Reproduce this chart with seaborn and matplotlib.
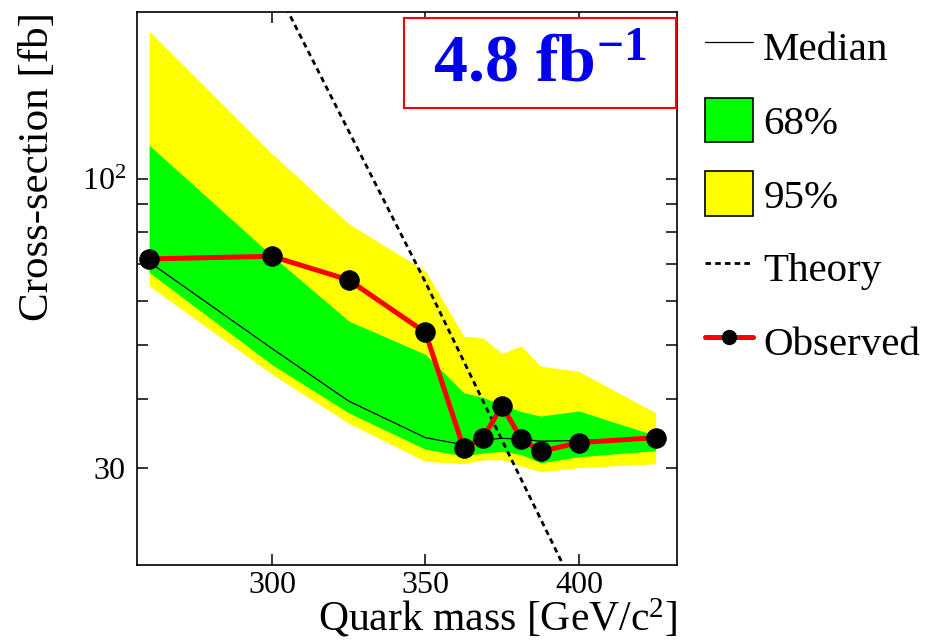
import numpy as np
import pandas as pd
import matplotlib
matplotlib.use('Agg')
import matplotlib.pyplot as plt
import seaborn as sns
from matplotlib.lines import Line2D
from matplotlib.patches import Patch, Rectangle
from matplotlib.ticker import FixedLocator, NullFormatter

# quark mass points [GeV/c^2]
mass = [260, 300, 325, 350, 362.5, 368.75, 375, 381.25, 387.5, 400, 425]

# cross-section limits [fb]
observed = [71.6, 72.4, 65.6, 52.7, 32.5, 34.0, 38.8, 33.8, 32.1, 33.3, 34.0]
median = [70.7, 49.3, 39.6, 34.0, 33.0, 33.7, 33.9, 33.8, 33.5, 33.6, 33.9]
band68_lo = [67.7, 46.1, 37.7, 32.4, 31.5, 31.9, 32.1, 31.7, 30.6, 31.4, 32.2]
band68_hi = [115, 72.6, 55.3, 48.1, 41.0, 40.2, 39.0, 37.9, 37.2, 38.0, 34.3]
band95_lo = [64.0, 44.3, 36.1, 30.8, 30.5, 31.0, 31.0, 30.2, 29.5, 30.0, 30.5]
band95_hi = [185, 111, 82.9, 68.1, 51.9, 51.5, 48.3, 49.8, 45.8, 44.8, 37.7]

# theory prediction
theory_mass = [300, 325, 350, 375, 400]
theory = [229, 122, 65, 33.6, 17.5]

lumi_label = '4.8 fb$^{\\mathbf{-1}}$'

df = pd.DataFrame({'mass': mass, 'observed': observed, 'median': median})
df_th = pd.DataFrame({'mass': theory_mass, 'xsec': theory})

sns.set_theme(style='ticks')
plt.rcParams['font.family'] = ['Liberation Serif', 'DejaVu Serif']
plt.rcParams['mathtext.fontset'] = 'custom'
plt.rcParams['mathtext.rm'] = 'Liberation Serif'
plt.rcParams['mathtext.it'] = 'Liberation Serif:italic'
plt.rcParams['mathtext.bf'] = 'Liberation Serif:bold'
plt.rcParams['text.color'] = 'black'
plt.rcParams['axes.labelcolor'] = 'black'
plt.rcParams['xtick.color'] = 'black'
plt.rcParams['ytick.color'] = 'black'

fig = plt.figure(figsize=(9.25, 6.41), dpi=100)
ax = fig.add_axes([0.148, 0.1186, 0.584, 0.862])

ax.fill_between(mass, band95_lo, band95_hi, color='#ffff00', lw=0)
ax.fill_between(mass, band68_lo, band68_hi, color='#00ff00', lw=0)
sns.lineplot(data=df, x='mass', y='median', color='black', lw=0.9, ax=ax)
sns.lineplot(data=df_th, x='mass', y='xsec', color='black', lw=2,
             linestyle=(0, (2, 1.5)), ax=ax)
sns.lineplot(data=df, x='mass', y='observed', color='red', lw=3.6, marker='o',
             markersize=14, markerfacecolor='black', markeredgecolor='black', ax=ax)

ax.set_yscale('log')
ax.set_xlim(256, 432)
ax.set_ylim(20, 200)
ax.set_xticks([300, 350, 400])
ax.yaxis.set_major_locator(FixedLocator([30, 100]))
ax.set_yticklabels(['30', '$10^{\\mathrm{2}}$'])
ax.yaxis.set_minor_locator(FixedLocator([40, 50, 60, 70, 80, 90]))
ax.yaxis.set_minor_formatter(NullFormatter())
ax.tick_params(which='both', direction='in', top=True, right=True,
               length=8, width=1.1, color='black', labelsize=23)
ax.tick_params(axis='x', pad=4)
ax.tick_params(axis='y', pad=8)
for sp in ax.spines.values():
    sp.set_linewidth(1.2)
    sp.set_color('black')

ax.set_xlabel('Quark mass [GeV/c$^{\\mathrm{2}}$]', fontsize=30, loc='right', labelpad=-2)
ax.set_ylabel('Cross-section [fb]', fontsize=31, loc='top', labelpad=18)

# luminosity box
ax.add_patch(Rectangle((0.494, 0.827), 0.504, 0.163, transform=ax.transAxes,
                       facecolor='white', edgecolor='red', lw=1.5, zorder=5))
ax.text(0.746, 0.905, lumi_label, transform=ax.transAxes, ha='center', va='center',
        color='#0000ee', fontsize=49, fontweight='bold', zorder=6)

handles = [
    Line2D([], [], color='black', lw=0.9),
    Patch(facecolor='#00ff00', edgecolor='black', lw=1.2),
    Patch(facecolor='#ffff00', edgecolor='black', lw=1.2),
    Line2D([], [], color='black', lw=2, linestyle=(0, (2, 1.5))),
    Line2D([], [], color='red', lw=3.6, marker='o', markersize=10,
           markerfacecolor='black', markeredgecolor='black'),
]
labels = ['Median', '68%', '95%', 'Theory', 'Observed']
fig.legend(handles, labels, loc='upper left', bbox_to_anchor=(705 / 925, 1 - 24 / 641),
           frameon=False, fontsize=29.5, handlelength=1.17, handleheight=1.3,
           handletextpad=0.25, labelspacing=0.7, borderpad=0, borderaxespad=0)

fig.savefig('out.png', dpi=100)
